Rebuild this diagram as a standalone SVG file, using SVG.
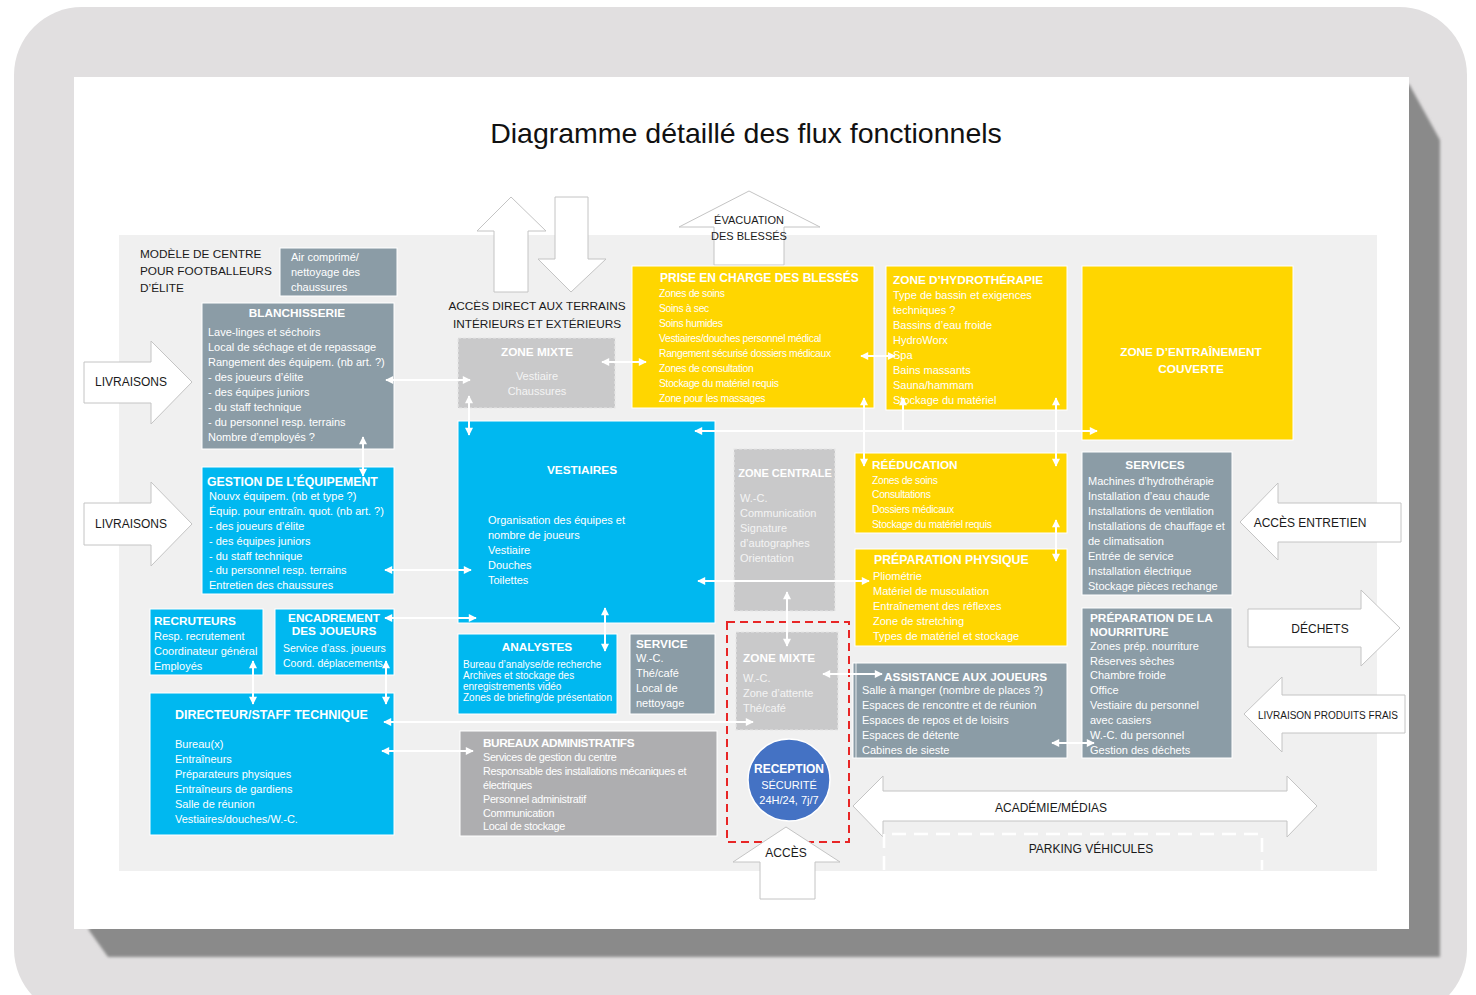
<svg xmlns="http://www.w3.org/2000/svg" width="1476" height="995" viewBox="0 0 1476 995">
<defs>
<style>
text{font-family:"Liberation Sans",Arial,sans-serif;dominant-baseline:central}
.t{fill:#fff;font-weight:bold;font-size:11.8px}
.b{fill:#fff;font-size:11px}
.y{fill:#fff;font-size:10.3px;letter-spacing:-0.3px}
.yt{fill:#fff;font-weight:bold;font-size:11.8px}
.dk{fill:#1a1a1a;font-size:11.8px}
.cy{fill:#00b8f0;stroke:#fff;stroke-width:1}
.ye{fill:#ffd600;stroke:#fff;stroke-width:1}
.gb{fill:#8b9ca6;stroke:#fff;stroke-width:1}
.lg{fill:#c9c9ca;stroke:#e6e6e6;stroke-width:1.2;stroke-dasharray:3 2}
.ag{fill:#aeaeb0;stroke:#fff;stroke-width:1}
.blk{fill:#fff;stroke:#c4c4c4;stroke-width:1}
.mid{text-anchor:middle}
#connectors line{stroke:#fff;stroke-width:2}
</style>
<marker id="ah" viewBox="0 0 10 10" refX="9" refY="5" markerWidth="9" markerHeight="8" markerUnits="userSpaceOnUse" orient="auto-start-reverse">
<path d="M0,0 L10,5 L0,10 Z" fill="#fff"/>
</marker>
<filter id="blur" x="-5%" y="-5%" width="110%" height="110%"><feGaussianBlur stdDeviation="1.5"/></filter>
</defs>

<rect x="0" y="0" width="1476" height="995" fill="#fff"/>
<rect x="14" y="7" width="1453" height="1010" rx="68" fill="#e1dfe0"/>
<path d="M1409,84 L1440,140 L1440,957 L108,957 L88,929 Z" fill="#8a8a8a" filter="url(#blur)"/>
<rect x="74" y="77" width="1335" height="852" fill="#fff"/>
<rect x="119" y="235" width="1258" height="636" fill="#f0f0f0"/>

<text x="746" y="133" class="mid" style="font-size:28.5px;fill:#111">Diagramme détaillé des flux fonctionnels</text>

<g id="model-title">
<text x="140" y="254" class="dk">MODÈLE DE CENTRE</text>
<text x="140" y="271" class="dk">POUR FOOTBALLEURS</text>
<text x="140" y="288" class="dk">D’ÉLITE</text>
</g>

<g id="air-comprime">
<rect x="280" y="248" width="117" height="48" class="gb"/>
<text x="291" y="257" class="b">Air comprimé/</text>
<text x="291" y="272" class="b">nettoyage des</text>
<text x="291" y="287" class="b">chaussures</text>
</g>

<g id="blanchisserie">
<rect x="202" y="303" width="192" height="146" class="gb"/>
<text x="297" y="313" class="t mid">BLANCHISSERIE</text>
<text x="208" y="332" class="b">Lave-linges et séchoirs</text>
<text x="208" y="347" class="b">Local de séchage et de repassage</text>
<text x="208" y="362" class="b">Rangement des équipem. (nb art. ?)</text>
<text x="208" y="377" class="b">- des joueurs d’élite</text>
<text x="208" y="392" class="b">- des équipes juniors</text>
<text x="208" y="407" class="b">- du staff technique</text>
<text x="208" y="422" class="b">- du personnel resp. terrains</text>
<text x="208" y="437" class="b">Nombre d’employés ?</text>
</g>

<g id="livraisons-1">
<path d="M84,362 H151 V341 L192,382 L151,424 V403 H84 Z" class="blk"/>
<text x="131" y="382" class="mid" style="font-size:12px;fill:#1a1a1a">LIVRAISONS</text>
</g>

<g id="gestion-equipement">
<rect x="202" y="467" width="192" height="127" class="cy"/>
<text x="207" y="482" class="t" style="font-size:12.3px">GESTION DE L’ÉQUIPEMENT</text>
<text x="209" y="496" class="b">Nouvx équipem. (nb et type ?)</text>
<text x="209" y="511" class="b">Équip. pour entraîn. quot. (nb art. ?)</text>
<text x="209" y="526" class="b">- des joueurs d’élite</text>
<text x="209" y="541" class="b">- des équipes juniors</text>
<text x="209" y="556" class="b">- du staff technique</text>
<text x="209" y="570" class="b">- du personnel resp. terrains</text>
<text x="209" y="585" class="b">Entretien des chaussures</text>
</g>

<g id="livraisons-2">
<path d="M84,503 H151 V482 L192,524 L151,566 V545 H84 Z" class="blk"/>
<text x="131" y="524" class="mid" style="font-size:12px;fill:#1a1a1a">LIVRAISONS</text>
</g>

<g id="recruteurs">
<rect x="150" y="609" width="113" height="66" class="cy"/>
<text x="154" y="621" class="t">RECRUTEURS</text>
<text x="154" y="636" class="b">Resp. recrutement</text>
<text x="154" y="651" class="b">Coordinateur général</text>
<text x="154" y="666" class="b">Employés</text>
</g>

<g id="encadrement">
<rect x="275" y="609" width="119" height="66" class="cy"/>
<text x="334" y="618" class="t mid">ENCADREMENT</text>
<text x="334" y="631" class="t mid">DES JOUEURS</text>
<text x="283" y="648" class="b" style="font-size:10.5px">Service d’ass. joueurs</text>
<text x="283" y="663" class="b" style="font-size:10.5px">Coord. déplacements</text>
</g>

<g id="directeur">
<rect x="150" y="693" width="244" height="142" class="cy"/>
<text x="175" y="715" class="t" style="font-size:12.5px">DIRECTEUR/STAFF TECHNIQUE</text>
<text x="175" y="744" class="b">Bureau(x)</text>
<text x="175" y="759" class="b">Entraîneurs</text>
<text x="175" y="774" class="b">Préparateurs physiques</text>
<text x="175" y="789" class="b">Entraîneurs de gardiens</text>
<text x="175" y="804" class="b">Salle de réunion</text>
<text x="175" y="819" class="b">Vestiaires/douches/W.-C.</text>
</g>

<g id="acces-direct">
<path d="M511,197 L546,231 H528 V292 H494 V231 H477 Z" class="blk"/>
<path d="M555,197 H588 V259 H606 L571,292 L538,259 H555 Z" class="blk"/>
<text x="537" y="306" class="mid dk">ACCÈS DIRECT AUX TERRAINS</text>
<text x="537" y="324" class="mid dk">INTÉRIEURS ET EXTÉRIEURS</text>
</g>

<g id="zone-mixte-haut">
<rect x="458" y="338" width="157" height="70" class="lg"/>
<text x="537" y="352" class="t mid">ZONE MIXTE</text>
<text x="537" y="376" class="b mid" style="fill:#f4f4f4">Vestiaire</text>
<text x="537" y="391" class="b mid" style="fill:#f4f4f4">Chaussures</text>
</g>

<g id="evacuation">
<path d="M749,191 L820,227 H784 V265 H714 V227 H679 Z" class="blk"/>
<text x="749" y="220" class="mid" style="font-size:11px;fill:#1a1a1a">ÉVACUATION</text>
<text x="749" y="236" class="mid" style="font-size:11px;fill:#1a1a1a">DES BLESSÉS</text>
</g>

<g id="prise-en-charge">
<rect x="632" y="266" width="242" height="142" class="ye"/>
<text x="660" y="278" class="yt" style="font-size:12px">PRISE EN CHARGE DES BLESSÉS</text>
<text x="659" y="293" class="y">Zones de soins</text>
<text x="659" y="308" class="y">Soins à sec</text>
<text x="659" y="323" class="y">Soins humides</text>
<text x="659" y="338" class="y">Vestiaires/douches personnel médical</text>
<text x="659" y="353" class="y">Rangement sécurisé dossiers médicaux</text>
<text x="659" y="368" class="y">Zones de consultation</text>
<text x="659" y="383" class="y">Stockage du matériel requis</text>
<text x="659" y="398" class="y">Zone pour les massages</text>
</g>

<g id="hydrotherapie">
<rect x="886" y="266" width="181" height="144" class="ye"/>
<text x="893" y="280" class="yt">ZONE D’HYDROTHÉRAPIE</text>
<text x="893" y="295" class="b">Type de bassin et exigences</text>
<text x="893" y="310" class="b">techniques ?</text>
<text x="893" y="325" class="b">Bassins d’eau froide</text>
<text x="893" y="340" class="b">HydroWorx</text>
<text x="893" y="355" class="b">Spa</text>
<text x="893" y="370" class="b">Bains massants</text>
<text x="893" y="385" class="b">Sauna/hammam</text>
<text x="893" y="400" class="b">Stockage du matériel</text>
</g>

<g id="entrainement-couverte">
<rect x="1082" y="266" width="211" height="174" class="ye"/>
<text x="1191" y="352" class="yt mid">ZONE D’ENTRAÎNEMENT</text>
<text x="1191" y="369" class="yt mid">COUVERTE</text>
</g>

<g id="vestiaires">
<rect x="458" y="421" width="257" height="202" class="cy"/>
<text x="582" y="470" class="t mid">VESTIAIRES</text>
<text x="488" y="520" class="b">Organisation des équipes et</text>
<text x="488" y="535" class="b">nombre de joueurs</text>
<text x="488" y="550" class="b">Vestiaire</text>
<text x="488" y="565" class="b">Douches</text>
<text x="488" y="580" class="b">Toilettes</text>
</g>

<g id="zone-centrale">
<rect x="734" y="449" width="101" height="162" class="lg"/>
<text x="785" y="473" class="t mid" style="font-size:11px">ZONE CENTRALE</text>
<text x="740" y="498" class="b" style="fill:#f4f4f4">W.-C.</text>
<text x="740" y="513" class="b" style="fill:#f4f4f4">Communication</text>
<text x="740" y="528" class="b" style="fill:#f4f4f4">Signature</text>
<text x="740" y="543" class="b" style="fill:#f4f4f4">d’autographes</text>
<text x="740" y="558" class="b" style="fill:#f4f4f4">Orientation</text>
</g>

<g id="reeducation">
<rect x="855" y="453" width="212" height="80" class="ye"/>
<text x="872" y="465" class="yt">RÉÉDUCATION</text>
<text x="872" y="480" class="y">Zones de soins</text>
<text x="872" y="494" class="y">Consultations</text>
<text x="872" y="509" class="y">Dossiers médicaux</text>
<text x="872" y="524" class="y">Stockage du matériel requis</text>
</g>

<g id="preparation-physique">
<rect x="855" y="549" width="212" height="97" class="ye"/>
<text x="874" y="560" class="yt" style="font-size:12.3px">PRÉPARATION PHYSIQUE</text>
<text x="873" y="576" class="b">Pliométrie</text>
<text x="873" y="591" class="b">Matériel de musculation</text>
<text x="873" y="606" class="b">Entraînement des réflexes</text>
<text x="873" y="621" class="b">Zone de stretching</text>
<text x="873" y="636" class="b">Types de matériel et stockage</text>
</g>

<g id="services">
<rect x="1082" y="452" width="150" height="143" class="gb"/>
<text x="1155" y="465" class="t mid">SERVICES</text>
<text x="1088" y="481" class="b">Machines d’hydrothérapie</text>
<text x="1088" y="496" class="b">Installation d’eau chaude</text>
<text x="1088" y="511" class="b">Installations de ventilation</text>
<text x="1088" y="526" class="b">Installations de chauffage et</text>
<text x="1088" y="541" class="b">de climatisation</text>
<text x="1088" y="556" class="b">Entrée de service</text>
<text x="1088" y="571" class="b">Installation électrique</text>
<text x="1088" y="586" class="b">Stockage pièces rechange</text>
</g>

<g id="preparation-nourriture">
<rect x="1082" y="608" width="150" height="150" class="gb"/>
<text x="1090" y="618" class="t">PRÉPARATION DE LA</text>
<text x="1090" y="632" class="t">NOURRITURE</text>
<text x="1090" y="646" class="b">Zones prép.  nourriture</text>
<text x="1090" y="661" class="b">Réserves sèches</text>
<text x="1090" y="675" class="b">Chambre froide</text>
<text x="1090" y="690" class="b">Office</text>
<text x="1090" y="705" class="b">Vestiaire du personnel</text>
<text x="1090" y="720" class="b">avec casiers</text>
<text x="1090" y="735" class="b">W.-C. du personnel</text>
<text x="1090" y="750" class="b">Gestion des déchets</text>
</g>

<g id="acces-entretien">
<path d="M1240,522 L1278,483 V503 H1401 V542 H1278 V560 Z" class="blk"/>
<text x="1310" y="523" class="mid" style="font-size:12px;fill:#1a1a1a">ACCÈS ENTRETIEN</text>
</g>

<g id="dechets">
<path d="M1248,609 H1361 V590 L1400,628 L1361,666 V647 H1248 Z" class="blk"/>
<text x="1320" y="629" class="mid" style="font-size:12px;fill:#1a1a1a">DÉCHETS</text>
</g>

<g id="livraison-produits-frais">
<path d="M1244,714 L1282,677 V695 H1405 V733 H1282 V752 Z" class="blk"/>
<text x="1328" y="715" class="mid" style="font-size:10px;fill:#1a1a1a">LIVRAISON PRODUITS FRAIS</text>
</g>

<g id="analystes">
<rect x="458" y="634" width="159" height="80" class="cy"/>
<text x="537" y="647" class="t mid">ANALYSTES</text>
<text x="463" y="664" class="b" style="font-size:10px">Bureau d’analyse/de recherche</text>
<text x="463" y="675" class="b" style="font-size:10px">Archives et stockage des</text>
<text x="463" y="686" class="b" style="font-size:10px">enregistrements vidéo</text>
<text x="463" y="697" class="b" style="font-size:10px">Zones de briefing/de présentation</text>
</g>

<g id="service">
<rect x="630" y="634" width="85" height="80" class="gb"/>
<text x="636" y="644" class="t">SERVICE</text>
<text x="636" y="658" class="b">W.-C.</text>
<text x="636" y="673" class="b">Thé/café</text>
<text x="636" y="688" class="b">Local de</text>
<text x="636" y="703" class="b">nettoyage</text>
</g>

<g id="bureaux-administratifs">
<rect x="460" y="731" width="257" height="105" class="ag"/>
<text x="483" y="743" class="t" style="letter-spacing:-0.4px">BUREAUX ADMINISTRATIFS</text>
<text x="483" y="757" class="y" style="font-size:10.8px">Services de gestion du centre</text>
<text x="483" y="771" class="y" style="font-size:10.8px">Responsable des installations mécaniques et</text>
<text x="483" y="785" class="y" style="font-size:10.8px">électriques</text>
<text x="483" y="799" class="y" style="font-size:10.8px">Personnel administratif</text>
<text x="483" y="813" class="y" style="font-size:10.8px">Communication</text>
<text x="483" y="826" class="y" style="font-size:10.8px">Local de stockage</text>
</g>

<g id="zone-securite">
<rect x="727" y="622" width="122" height="220" fill="none" stroke="#e82626" stroke-width="2" stroke-dasharray="8 5"/>
</g>

<g id="zone-mixte-bas">
<rect x="736" y="632" width="102" height="98" class="lg"/>
<text x="743" y="658" class="t">ZONE MIXTE</text>
<text x="743" y="678" class="b" style="fill:#f4f4f4">W.-C.</text>
<text x="743" y="693" class="b" style="fill:#f4f4f4">Zone d’attente</text>
<text x="743" y="708" class="b" style="fill:#f4f4f4">Thé/café</text>
</g>

<g id="reception">
<circle cx="789" cy="780" r="41" fill="#4472c4" stroke="#fff" stroke-width="1.5"/>
<text x="789" y="769" class="t mid" style="font-size:12px">RECEPTION</text>
<text x="789" y="785" class="b mid">SÉCURITÉ</text>
<text x="789" y="800" class="b mid">24H/24, 7j/7</text>
</g>

<g id="acces">
<path d="M786,827 L840,862 H815 V899 H760 V862 H733 Z" class="blk"/>
<text x="786" y="853" class="mid" style="font-size:12px;fill:#1a1a1a">ACCÈS</text>
</g>

<g id="assistance">
<rect x="853" y="663" width="214" height="95" class="gb"/>
<line x1="856" y1="663" x2="856" y2="758" stroke="#fff" stroke-width="0.8"/>
<text x="884" y="677" class="t">ASSISTANCE AUX JOUEURS</text>
<text x="862" y="690" class="b">Salle à manger (nombre de places ?)</text>
<text x="862" y="705" class="b">Espaces de rencontre et de réunion</text>
<text x="862" y="720" class="b">Espaces de repos et de loisirs</text>
<text x="862" y="735" class="b">Espaces de détente</text>
<text x="862" y="750" class="b">Cabines de sieste</text>
</g>

<g id="academie-medias">
<path d="M853,806 L883,776 V791 H1287 V776 L1317,806 L1287,837 V821 H883 V837 Z" class="blk"/>
<text x="1051" y="808" class="mid" style="font-size:12px;fill:#1a1a1a">ACADÉMIE/MÉDIAS</text>
</g>

<g id="parking">
<path d="M884,870 V834 H1262 V870" fill="none" stroke="#fff" stroke-width="2.5" stroke-dasharray="14 8"/>
<text x="1091" y="849" class="mid" style="font-size:12px;fill:#1a1a1a">PARKING VÉHICULES</text>
</g>

<g id="connectors">
<line x1="386" y1="380" x2="470" y2="380" marker-start="url(#ah)" marker-end="url(#ah)"/>
<line x1="363" y1="437" x2="363" y2="476" marker-start="url(#ah)" marker-end="url(#ah)"/>
<line x1="469" y1="396" x2="469" y2="435" marker-start="url(#ah)" marker-end="url(#ah)"/>
<line x1="602" y1="362" x2="646" y2="362" marker-start="url(#ah)" marker-end="url(#ah)"/>
<line x1="861" y1="356" x2="895" y2="356" marker-start="url(#ah)" marker-end="url(#ah)"/>
<line x1="695" y1="431" x2="1097" y2="431" marker-start="url(#ah)" marker-end="url(#ah)"/>
<line x1="864" y1="398" x2="864" y2="466" marker-start="url(#ah)" marker-end="url(#ah)"/>
<line x1="903" y1="431" x2="903" y2="398" marker-end="url(#ah)"/>
<line x1="1056" y1="398" x2="1056" y2="466" marker-start="url(#ah)" marker-end="url(#ah)"/>
<line x1="1056" y1="520" x2="1056" y2="561" marker-start="url(#ah)" marker-end="url(#ah)"/>
<line x1="385" y1="570" x2="471" y2="570" marker-start="url(#ah)" marker-end="url(#ah)"/>
<line x1="385" y1="618" x2="476" y2="618" marker-start="url(#ah)" marker-end="url(#ah)"/>
<line x1="698" y1="581" x2="869" y2="581" marker-start="url(#ah)" marker-end="url(#ah)"/>
<line x1="605" y1="608" x2="605" y2="651" marker-start="url(#ah)" marker-end="url(#ah)"/>
<line x1="787" y1="592" x2="787" y2="646" marker-start="url(#ah)" marker-end="url(#ah)"/>
<line x1="253" y1="661" x2="253" y2="704" marker-start="url(#ah)" marker-end="url(#ah)"/>
<line x1="386" y1="661" x2="386" y2="704" marker-start="url(#ah)" marker-end="url(#ah)"/>
<line x1="384" y1="722" x2="753" y2="722" marker-start="url(#ah)" marker-end="url(#ah)"/>
<line x1="382" y1="751" x2="473" y2="751" marker-start="url(#ah)" marker-end="url(#ah)"/>
<line x1="823" y1="674" x2="882" y2="674" marker-start="url(#ah)" marker-end="url(#ah)"/>
<line x1="1052" y1="743" x2="1094" y2="743" marker-start="url(#ah)" marker-end="url(#ah)"/>
</g>
</svg>
